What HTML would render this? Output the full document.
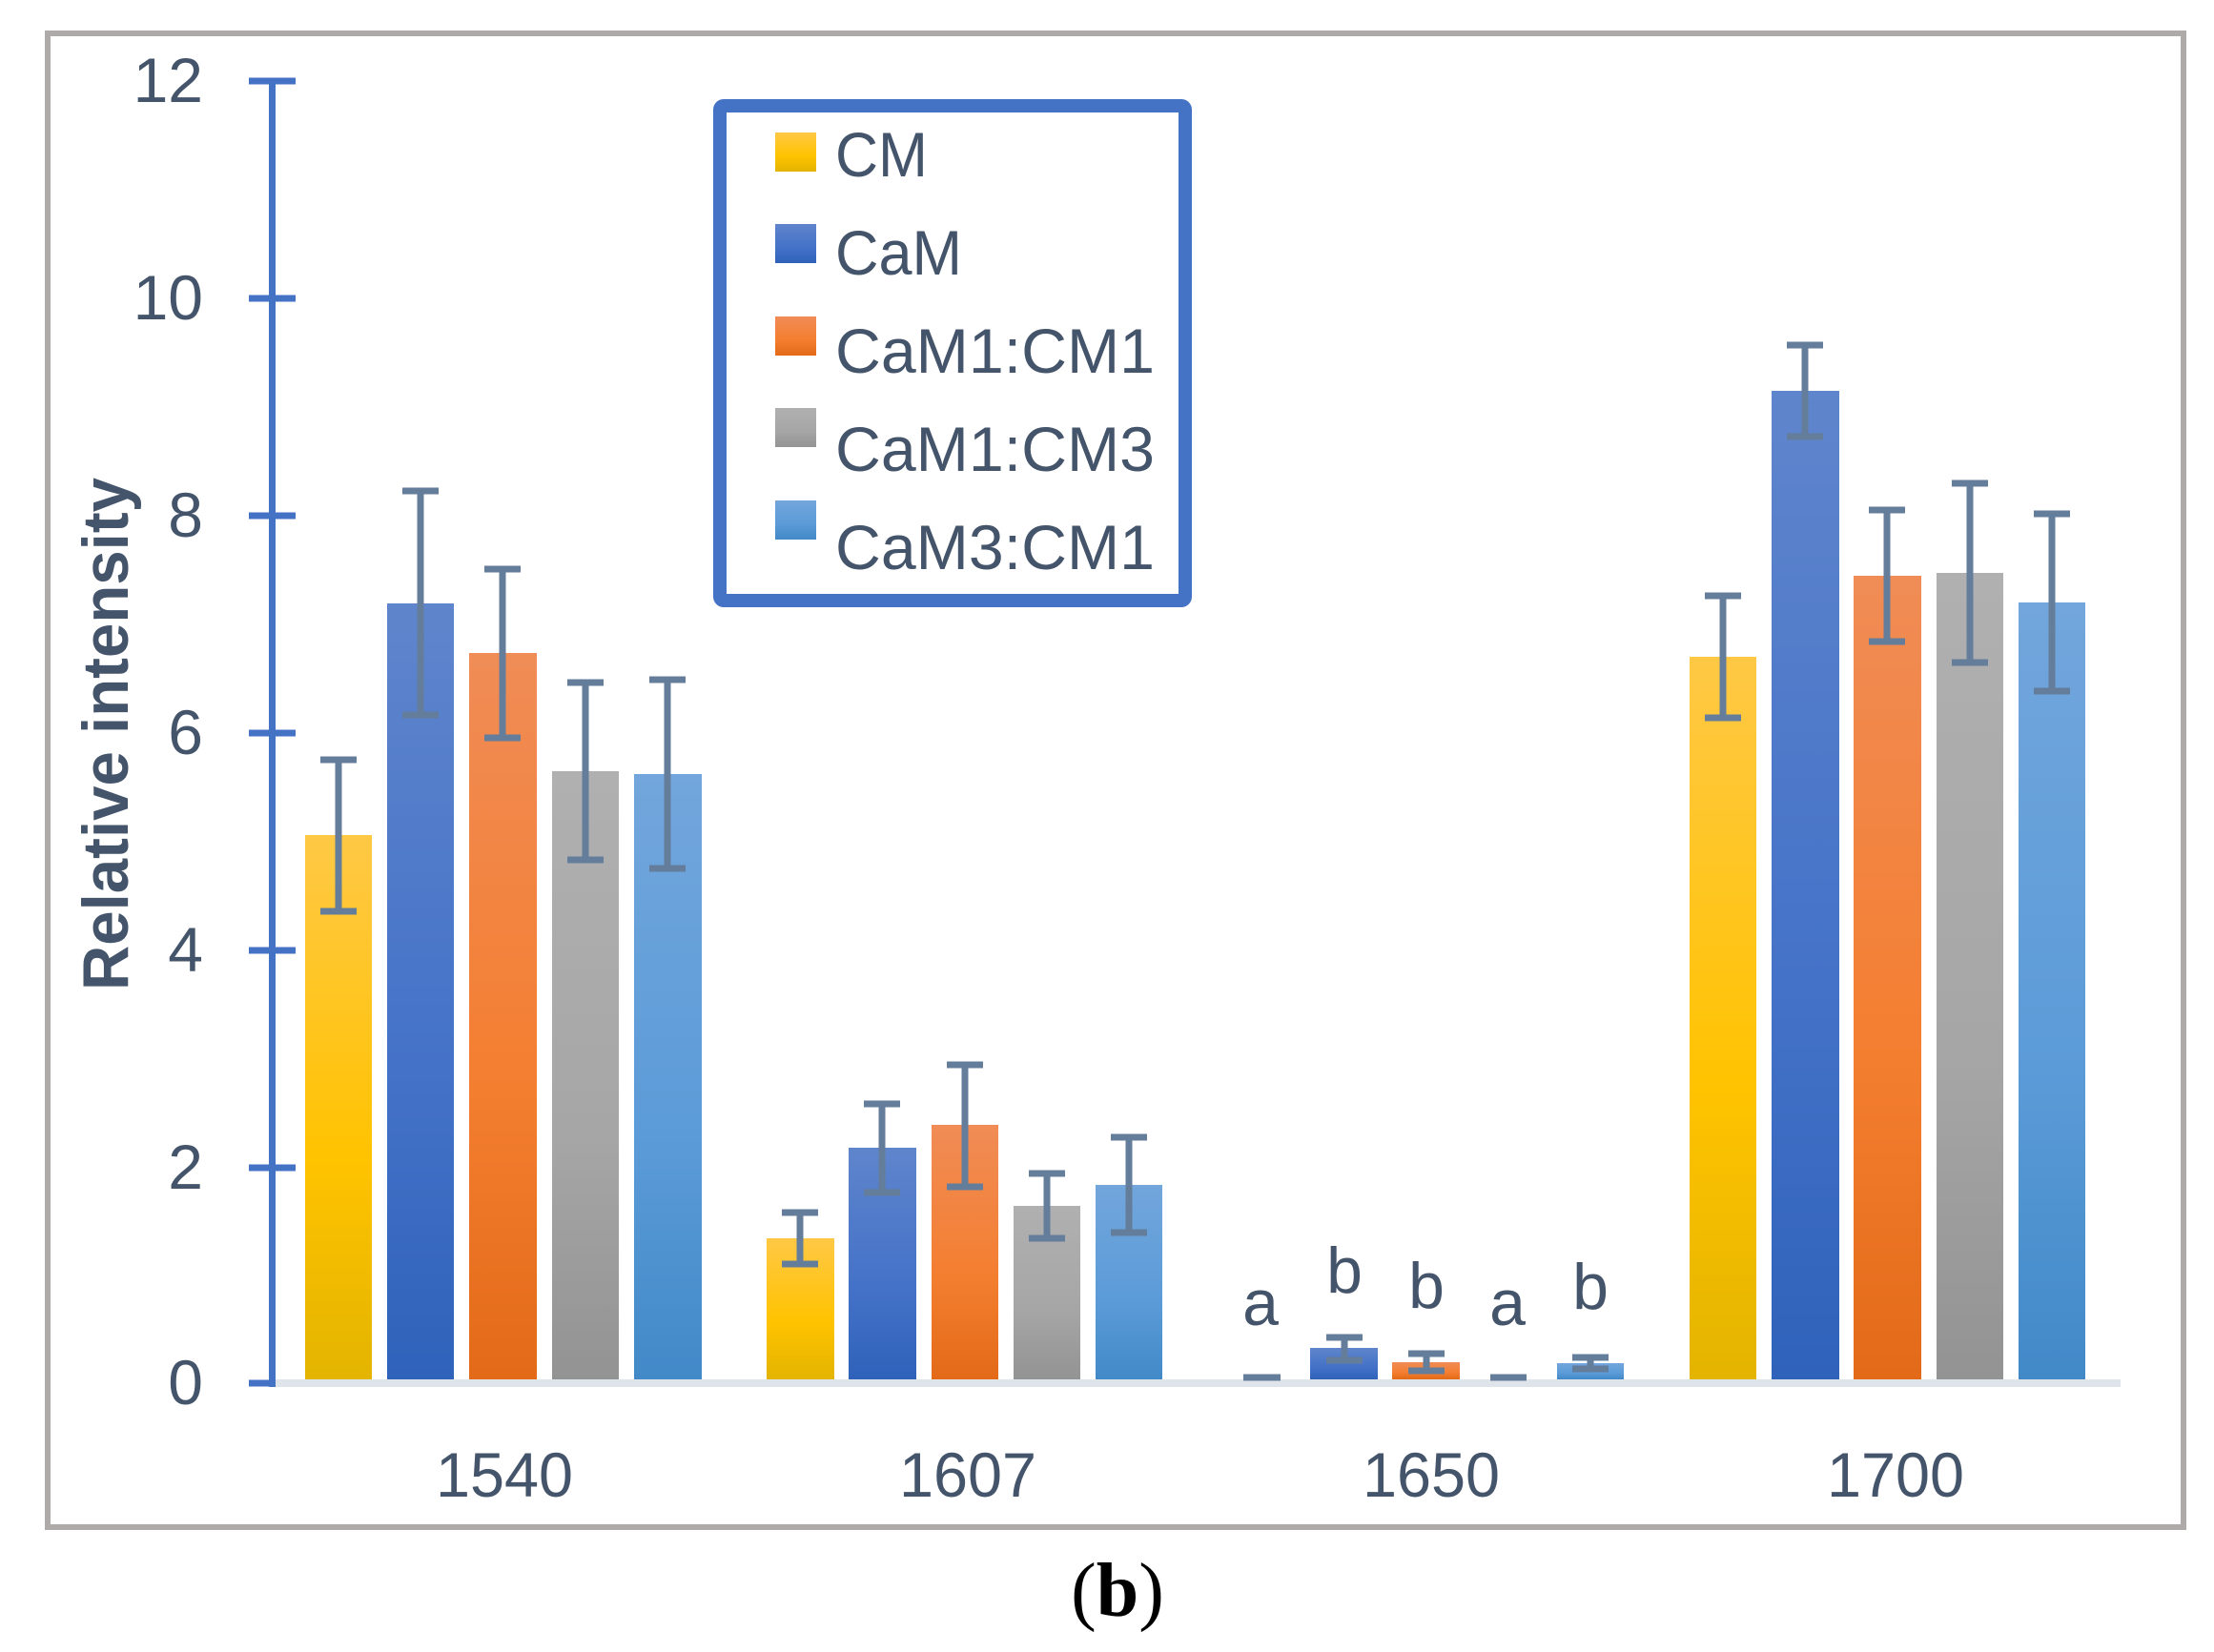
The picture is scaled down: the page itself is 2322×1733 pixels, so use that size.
<!DOCTYPE html>
<html><head><meta charset="utf-8"><style>html,body{margin:0;padding:0;background:#fff}svg{display:block}</style></head>
<body>
<svg width="2322" height="1733" viewBox="0 0 2322 1733" xmlns="http://www.w3.org/2000/svg">
<defs>
<linearGradient id="g0" x1="0" y1="0" x2="0" y2="1"><stop offset="0" stop-color="#ffc845"/><stop offset="0.6" stop-color="#ffc300"/><stop offset="1" stop-color="#e3b400"/></linearGradient>
<linearGradient id="g1" x1="0" y1="0" x2="0" y2="1"><stop offset="0" stop-color="#5f85cc"/><stop offset="0.6" stop-color="#4472c8"/><stop offset="1" stop-color="#2f62ba"/></linearGradient>
<linearGradient id="g2" x1="0" y1="0" x2="0" y2="1"><stop offset="0" stop-color="#f08c56"/><stop offset="0.6" stop-color="#f47e30"/><stop offset="1" stop-color="#e26a18"/></linearGradient>
<linearGradient id="g3" x1="0" y1="0" x2="0" y2="1"><stop offset="0" stop-color="#b0b0b0"/><stop offset="0.6" stop-color="#a6a6a6"/><stop offset="1" stop-color="#939393"/></linearGradient>
<linearGradient id="g4" x1="0" y1="0" x2="0" y2="1"><stop offset="0" stop-color="#72a6dc"/><stop offset="0.6" stop-color="#5b9bd8"/><stop offset="1" stop-color="#4289c8"/></linearGradient>
</defs>
<rect x="50" y="35" width="2240" height="1567" fill="none" stroke="#aeaaaa" stroke-width="6"/>

<rect x="282" y="1447" width="1942" height="8" fill="#dfe3ea"/>

<g>
<rect x="320" y="876" width="70" height="571" fill="url(#g0)"/>
<rect x="406" y="633" width="70" height="814" fill="url(#g1)"/>
<rect x="492" y="685" width="71" height="762" fill="url(#g2)"/>
<rect x="579" y="809" width="70" height="638" fill="url(#g3)"/>
<rect x="665" y="812" width="71" height="635" fill="url(#g4)"/>

<rect x="804" y="1299" width="71" height="148" fill="url(#g0)"/>
<rect x="890" y="1204" width="71" height="243" fill="url(#g1)"/>
<rect x="977" y="1180" width="70" height="267" fill="url(#g2)"/>
<rect x="1063" y="1265" width="70" height="182" fill="url(#g3)"/>
<rect x="1149" y="1243" width="70" height="204" fill="url(#g4)"/>

<rect x="1374" y="1414" width="71" height="33" fill="url(#g1)"/>
<rect x="1460" y="1429" width="71" height="18" fill="url(#g2)"/>
<rect x="1633" y="1430" width="70" height="17" fill="url(#g4)"/>

<rect x="1772" y="689" width="70" height="758" fill="url(#g0)"/>
<rect x="1858" y="410" width="71" height="1037" fill="url(#g1)"/>
<rect x="1944" y="604" width="71" height="843" fill="url(#g2)"/>
<rect x="2031" y="601" width="70" height="846" fill="url(#g3)"/>
<rect x="2117" y="632" width="70" height="815" fill="url(#g4)"/>
</g>

<g stroke="#647d9b" stroke-width="7" fill="none">
<path d="M355 797V956M336 797H374M336 956H374"/>
<path d="M441 515V750M422 515H460M422 750H460"/>
<path d="M527 597V774M508 597H546M508 774H546"/>
<path d="M614 716V902M595 716H633M595 902H633"/>
<path d="M700 713V911M681 713H719M681 911H719"/>

<path d="M839 1272V1326M820 1272H858M820 1326H858"/>
<path d="M925 1158V1251M906 1158H944M906 1251H944"/>
<path d="M1012 1117V1245M993 1117H1031M993 1245H1031"/>
<path d="M1098 1231V1299M1079 1231H1117M1079 1299H1117"/>
<path d="M1184 1193V1293M1165 1193H1203M1165 1293H1203"/>

<path d="M1304 1445H1343"/>
<path d="M1410 1403V1427M1391 1403H1429M1391 1427H1429"/>
<path d="M1496 1420V1438M1477 1420H1515M1477 1438H1515"/>
<path d="M1563 1445H1601"/>
<path d="M1668 1424V1436M1649 1424H1687M1649 1436H1687"/>

<path d="M1807 625V753M1788 625H1826M1788 753H1826"/>
<path d="M1893 362V458M1874 362H1912M1874 458H1912"/>
<path d="M1979 535V673M1960 535H1998M1960 673H1998"/>
<path d="M2066 507V695M2047 507H2085M2047 695H2085"/>
<path d="M2152 539V725M2133 539H2171M2133 725H2171"/>
</g>

<g stroke="#4472c4" stroke-width="7">
<line x1="285.5" y1="85" x2="285.5" y2="1455"/>
<line x1="261" y1="85" x2="310" y2="85"/>
<line x1="261" y1="313" x2="310" y2="313"/>
<line x1="261" y1="541" x2="310" y2="541"/>
<line x1="261" y1="769" x2="310" y2="769"/>
<line x1="261" y1="997" x2="310" y2="997"/>
<line x1="261" y1="1225" x2="310" y2="1225"/>
<line x1="261" y1="1451" x2="286" y2="1451"/>
</g>

<g font-family="'Liberation Sans', sans-serif" font-size="66" fill="#44546a" text-anchor="end">
<text x="213" y="107">12</text>
<text x="213" y="335">10</text>
<text x="213" y="563">8</text>
<text x="213" y="791">6</text>
<text x="213" y="1019">4</text>
<text x="213" y="1247">2</text>
<text x="213" y="1473">0</text>
</g>

<g font-family="'Liberation Sans', sans-serif" font-size="66" fill="#44546a" text-anchor="middle">
<text x="529" y="1570" textLength="144" lengthAdjust="spacingAndGlyphs">1540</text>
<text x="1015" y="1570" textLength="144" lengthAdjust="spacingAndGlyphs">1607</text>
<text x="1501" y="1570" textLength="144" lengthAdjust="spacingAndGlyphs">1650</text>
<text x="1988" y="1570" textLength="144" lengthAdjust="spacingAndGlyphs">1700</text>
</g>

<g font-family="'Liberation Sans', sans-serif" font-size="68" fill="#44546a" text-anchor="middle">
<text x="1322" y="1390">a</text>
<text x="1410" y="1356">b</text>
<text x="1496" y="1372">b</text>
<text x="1581" y="1390">a</text>
<text x="1668" y="1373">b</text>
</g>

<text transform="translate(134,770) rotate(-90)" font-family="'Liberation Sans', sans-serif" font-weight="bold" font-size="68" fill="#44546a" text-anchor="middle" textLength="538" lengthAdjust="spacingAndGlyphs">Relative intensity</text>

<rect x="755" y="111" width="488" height="519" rx="4" fill="#fff" stroke="#4472c4" stroke-width="14"/>
<rect x="813" y="139" width="43" height="41" fill="url(#g0)"/>
<rect x="813" y="235" width="43" height="41" fill="url(#g1)"/>
<rect x="813" y="332" width="43" height="41" fill="url(#g2)"/>
<rect x="813" y="428" width="43" height="41" fill="url(#g3)"/>
<rect x="813" y="525" width="43" height="41" fill="url(#g4)"/>
<g font-family="'Liberation Sans', sans-serif" font-size="66" fill="#44546a">
<text x="876" y="185" textLength="97" lengthAdjust="spacingAndGlyphs">CM</text>
<text x="876" y="288" textLength="133" lengthAdjust="spacingAndGlyphs">CaM</text>
<text x="876" y="391" textLength="335" lengthAdjust="spacingAndGlyphs">CaM1:CM1</text>
<text x="876" y="494" textLength="335" lengthAdjust="spacingAndGlyphs">CaM1:CM3</text>
<text x="876" y="597" textLength="335" lengthAdjust="spacingAndGlyphs">CaM3:CM1</text>
</g>

<text x="1172" y="1695" font-family="'Liberation Serif', serif" font-size="80" fill="#000" text-anchor="middle">(<tspan font-weight="bold">b</tspan>)</text>
</svg>
</body></html>
